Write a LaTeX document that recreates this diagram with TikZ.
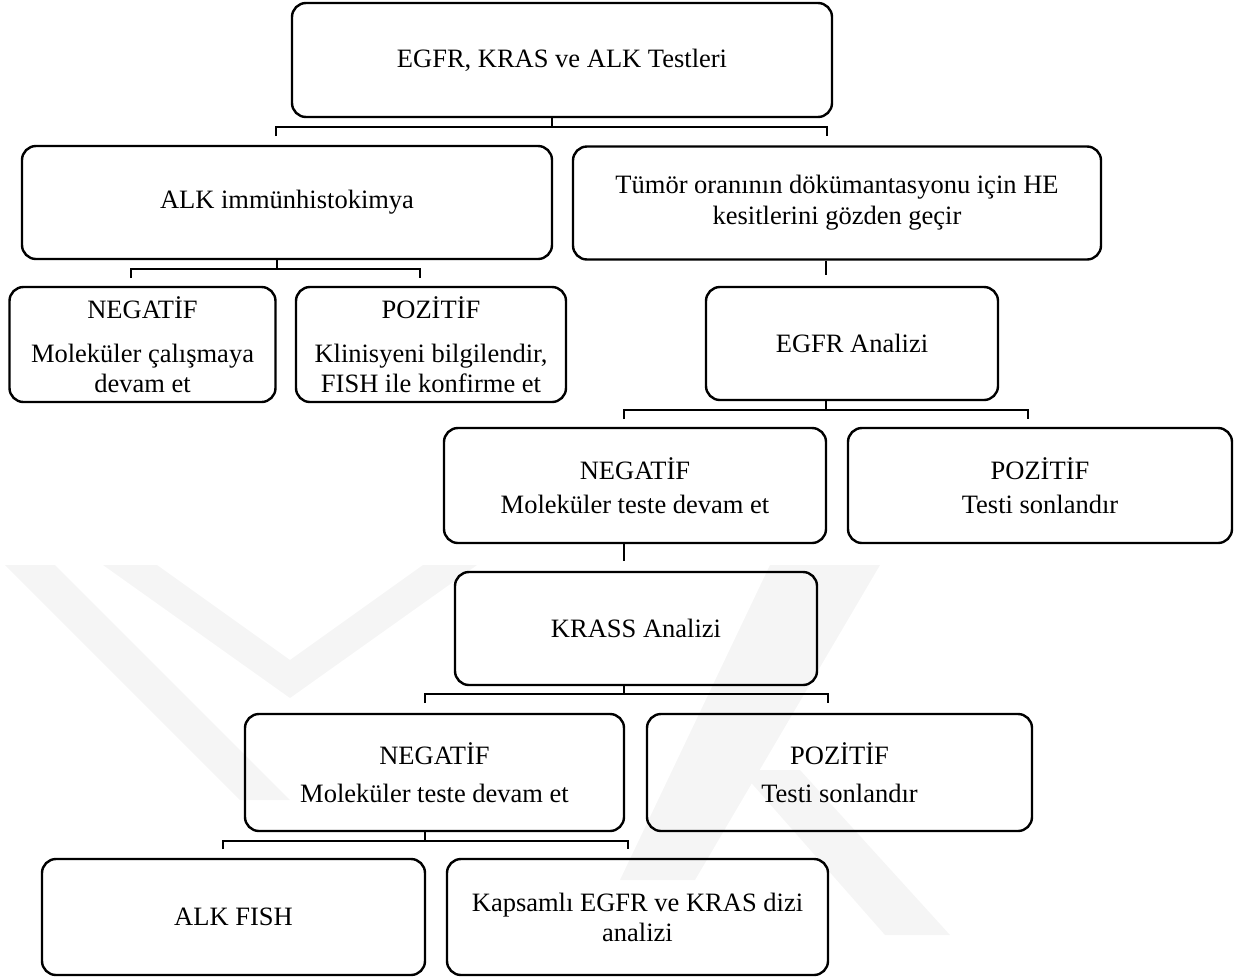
\documentclass[tikz,border=0pt]{standalone}
\usepackage{fontspec}
\setmainfont{Liberation Serif}
\begin{document}
\begin{tikzpicture}[x=1pt,y=-1pt,
  box/.style={draw, line width=2.4pt, rounded corners=14pt, align=center, inner sep=0pt,
    font=\fontsize{26.5}{30}\selectfont},
  conn/.style={line width=2.4pt},
  wm/.style={fill=black!4, draw=none}]
\useasboundingbox (0,0) rectangle (1251,978);
% faint watermark
\fill[wm] (5,565) -- (55,565) -- (290,800) -- (240,800) -- cycle;
\fill[wm] (103,565) -- (157,565) -- (290,660) -- (423,565) -- (477,565) -- (290,698) -- cycle;
\fill[wm] (770,565) -- (880,565) -- (695,880) -- (620,880) -- cycle;
\fill[wm] (740,770) -- (800,770) -- (950,935) -- (885,935) -- cycle;
% nodes
\node[box, minimum width=540pt, minimum height=114pt] (top) at (562,60) {EGFR, KRAS ve ALK Testleri};
\node[box, minimum width=530pt, minimum height=113pt] (alk) at (287,202.5) {ALK immünhistokimya};
\node[box, minimum width=528pt, minimum height=113pt, font=\fontsize{26.5}{31}\selectfont] (tumor) at (837,203) {Tümör oranının dökümantasyonu için HE\\kesitlerini gözden geçir};
\node[box, minimum width=266pt, minimum height=115pt] (neg1) at (142.5,344.5) {NEGATİF\\[14pt]Moleküler çalışmaya\\devam et};
\node[box, minimum width=270pt, minimum height=115pt] (poz1) at (431,344.5) {POZİTİF\\[14pt]Klinisyeni bilgilendir,\\FISH ile konfirme et};
\node[box, minimum width=292pt, minimum height=113pt] (egfr) at (852,343.5) {EGFR Analizi};
\node[box, minimum width=382pt, minimum height=115pt] (neg2) at (635,485.5) {NEGATİF\\[4pt]Moleküler teste devam et};
\node[box, minimum width=384pt, minimum height=115pt] (poz2) at (1040,485.5) {POZİTİF\\[4pt]Testi sonlandır};
\node[box, minimum width=362pt, minimum height=113pt] (krass) at (636,628.5) {KRASS Analizi};
\node[box, minimum width=379pt, minimum height=117pt] (neg3) at (434.5,772.5) {NEGATİF\\[8pt]Moleküler teste devam et};
\node[box, minimum width=385pt, minimum height=117pt] (poz3) at (839.5,772.5) {POZİTİF\\[8pt]Testi sonlandır};
\node[box, minimum width=383pt, minimum height=116pt] (alkfish) at (233.5,917) {ALK FISH};
\node[box, minimum width=381pt, minimum height=116pt] (kaps) at (637.5,917) {Kapsamlı EGFR ve KRAS dizi\\analizi};
% connector coordinates
\coordinate (j1) at (552,127); \coordinate (a1) at (276,136); \coordinate (a2) at (827,136);
\coordinate (j2) at (277,269); \coordinate (b1) at (131,278); \coordinate (b2) at (420,278);
\coordinate (s1) at (826,275);
\coordinate (j3) at (826,410); \coordinate (c1) at (624,419); \coordinate (c2) at (1028,419);
\coordinate (s2) at (624,561);
\coordinate (j4) at (624,694); \coordinate (d1) at (425,703); \coordinate (d2) at (828,703);
\coordinate (j5) at (425,841); \coordinate (e1) at (223,849); \coordinate (e2) at (628,849);
% connectors
\draw[conn] (j1 |- top.south) -- (j1);
\draw[conn] (a1) -- (a1 |- j1) -- (a2 |- j1) -- (a2);
\draw[conn] (j2 |- alk.south) -- (j2);
\draw[conn] (b1) -- (b1 |- j2) -- (b2 |- j2) -- (b2);
\draw[conn] (s1 |- tumor.south) -- (s1);
\draw[conn] (j3 |- egfr.south) -- (j3);
\draw[conn] (c1) -- (c1 |- j3) -- (c2 |- j3) -- (c2);
\draw[conn] (s2 |- neg2.south) -- (s2);
\draw[conn] (j4 |- krass.south) -- (j4);
\draw[conn] (d1) -- (d1 |- j4) -- (d2 |- j4) -- (d2);
\draw[conn] (j5 |- neg3.south) -- (j5);
\draw[conn] (e1) -- (e1 |- j5) -- (e2 |- j5) -- (e2);
\end{tikzpicture}
\end{document}
